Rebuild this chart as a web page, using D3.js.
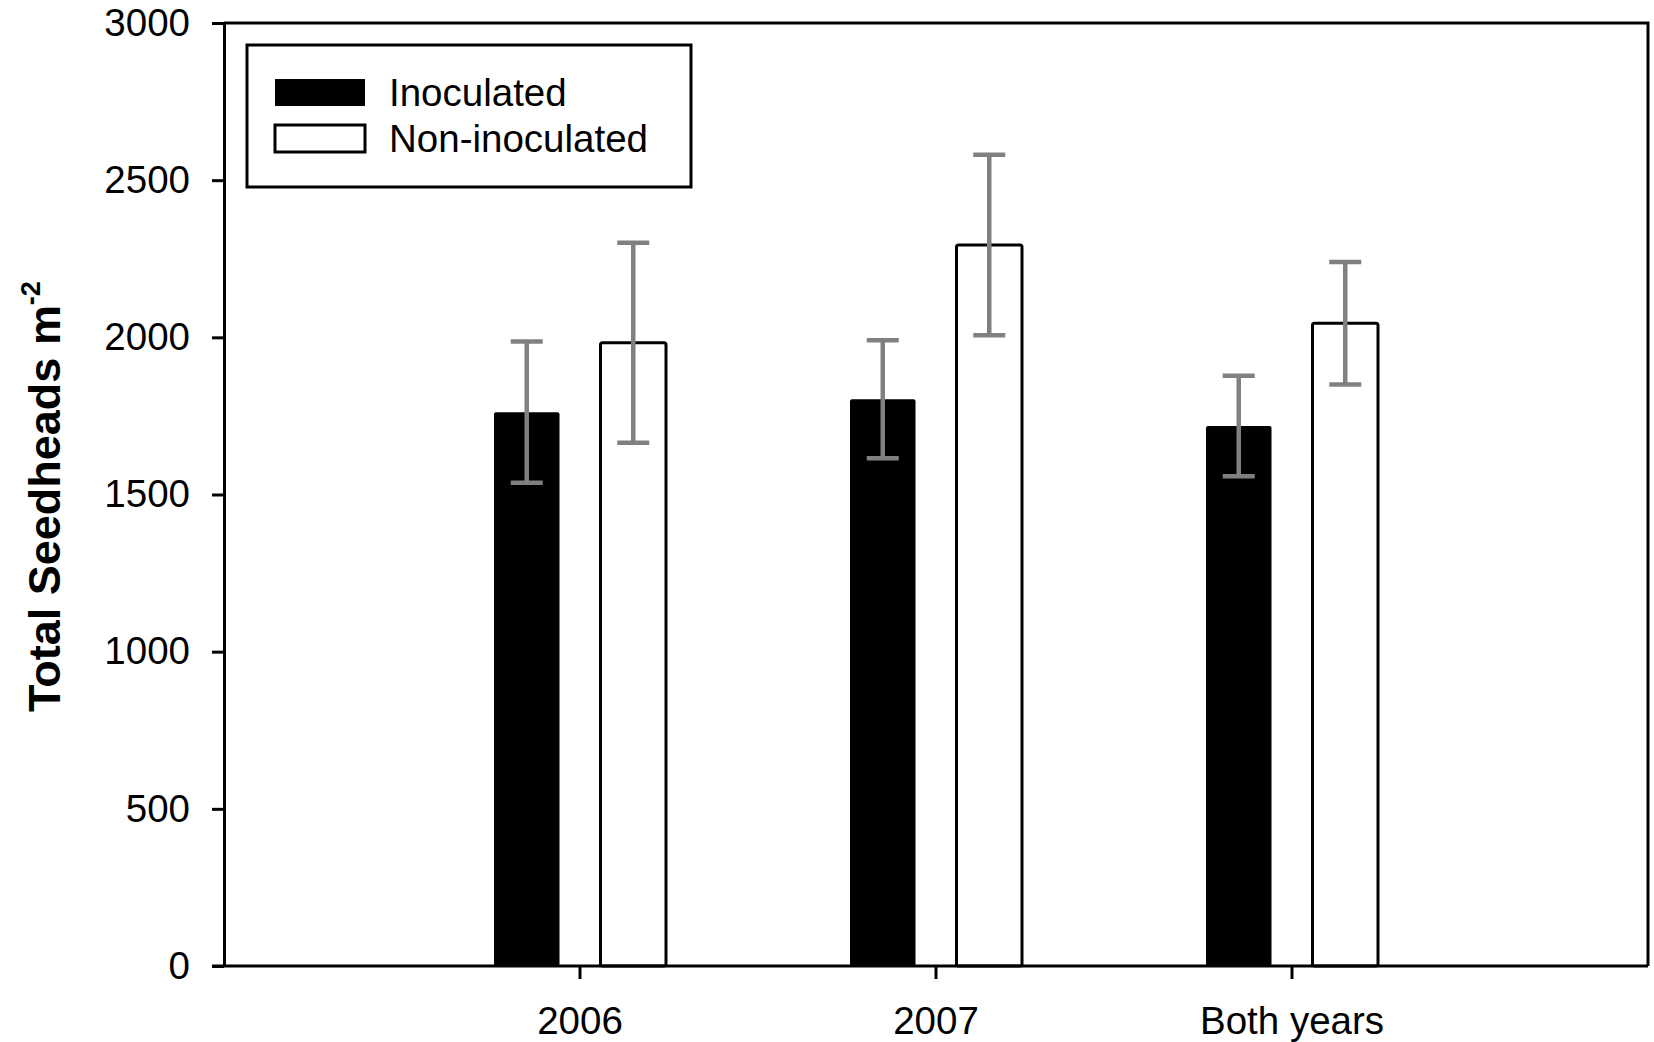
<!DOCTYPE html>
<html>
<head>
<meta charset="utf-8">
<script src="https://cdn.jsdelivr.net/npm/d3@7"></script>
<style>
  html, body { margin: 0; padding: 0; background: #fff; }
  svg { display: block; }
  text { font-family: "Liberation Sans", Arial, sans-serif; fill: #000; }
</style>
</head>
<body>
<svg id="chart" width="1654" height="1042"></svg>
<script>
// Seedhead counts (mean and standard error) per season
const categories = ["2006", "2007", "Both years"];
const seriesNames = ["Inoculated", "Non-inoculated"];
const inoculated = [1762, 1803, 1718];
const inoculatedErr = [225, 188, 160];
const nonInoculated = [1983, 2294, 2045];
const nonInoculatedErr = [318, 287, 195];
const yTicks = [0, 500, 1000, 1500, 2000, 2500, 3000];

const svg = d3.select("#chart");
const plot = { left: 224, right: 1648, top: 23, bottom: 966 };

const x = d3.scaleBand()
  .domain(categories)
  .range([plot.left, plot.right])
  .paddingInner(0)
  .paddingOuter(0.5);

const y = d3.scaleLinear().domain([0, 3000]).range([plot.bottom, plot.top]);

// Two bars per category, separated by a gap
const sub = d3.scaleBand()
  .domain(seriesNames)
  .range([x.bandwidth() / 2 - 86, x.bandwidth() / 2 + 86])
  .paddingInner(0.385)
  .paddingOuter(0);

const rows = categories.map((c, i) => ({
  cat: c,
  values: [
    { series: "Inoculated", value: inoculated[i], err: inoculatedErr[i] },
    { series: "Non-inoculated", value: nonInoculated[i], err: nonInoculatedErr[i] }
  ]
}));

// Frame (top and right edges)
svg.append("path")
  .attr("d", `M${plot.left},${plot.top}H${plot.right}V${plot.bottom}`)
  .attr("fill", "none").attr("stroke", "#000").attr("stroke-width", 3);

// Bars
const groups = svg.append("g").selectAll("g").data(rows).join("g")
  .attr("transform", d => `translate(${x(d.cat)},0)`);

groups.selectAll("rect").data(d => d.values).join("rect")
  .attr("x", d => sub(d.series))
  .attr("y", d => y(d.value))
  .attr("width", sub.bandwidth())
  .attr("height", d => y(0) - y(d.value))
  .attr("rx", 2)
  .attr("fill", d => d.series === "Inoculated" ? "#000" : "#fff")
  .attr("stroke", "#000")
  .attr("stroke-width", d => d.series === "Inoculated" ? 0 : 3);

// Error bars
const capHalf = 16;
const eb = groups.selectAll("g.err").data(d => d.values).join("g").attr("class", "err")
  .attr("stroke", "#808080").attr("stroke-width", 4.5);
const cx = d => sub(d.series) + sub.bandwidth() / 2;
eb.append("line")
  .attr("x1", cx).attr("x2", cx)
  .attr("y1", d => y(d.value + d.err))
  .attr("y2", d => y(d.value - d.err));
eb.append("line")
  .attr("x1", d => cx(d) - capHalf).attr("x2", d => cx(d) + capHalf)
  .attr("y1", d => y(d.value + d.err))
  .attr("y2", d => y(d.value + d.err));
eb.append("line")
  .attr("x1", d => cx(d) - capHalf).attr("x2", d => cx(d) + capHalf)
  .attr("y1", d => y(d.value - d.err))
  .attr("y2", d => y(d.value - d.err));

// Axes
const yAxis = svg.append("g")
  .attr("transform", `translate(${plot.left},0)`)
  .call(d3.axisLeft(y).tickValues(yTicks).tickFormat(d3.format("d"))
    .tickSize(12).tickSizeOuter(0).tickPadding(22));
const xAxis = svg.append("g")
  .attr("transform", `translate(0,${plot.bottom})`)
  .call(d3.axisBottom(x).tickSize(13).tickSizeOuter(0).tickPadding(28));

[yAxis, xAxis].forEach(a => {
  a.select(".domain").attr("stroke", "#000").attr("stroke-width", 3);
  a.selectAll(".tick line").attr("stroke", "#000").attr("stroke-width", 3);
  a.selectAll(".tick text")
    .attr("font-size", 38.5)
    .attr("font-family", "'Liberation Sans', Arial, sans-serif")
    .attr("fill", "#000");
});
// bottom axis runs out to the left under the y-axis ticks
xAxis.select(".domain").attr("d", `M${plot.left - 12},0H${plot.right}`);

// Y axis title with superscript
const title = svg.append("text")
  .attr("transform", `translate(60,${(plot.top + plot.bottom) / 2 + 2}) rotate(-90)`)
  .attr("text-anchor", "middle")
  .attr("font-size", 45)
  .attr("font-weight", "bold");
title.append("tspan").text("Total Seedheads m");
title.append("tspan").attr("dy", -20).attr("font-size", 27).text("-2");

// Legend
const legend = svg.append("g");
legend.append("rect")
  .attr("x", 247).attr("y", 45).attr("width", 444).attr("height", 142)
  .attr("fill", "#fff").attr("stroke", "#000").attr("stroke-width", 3);
const items = legend.selectAll("g.item").data(seriesNames).join("g").attr("class", "item")
  .attr("transform", (d, i) => `translate(0,${i * 46})`);
items.append("rect")
  .attr("x", 275).attr("y", 79).attr("width", 90).attr("height", 27)
  .attr("fill", d => d === "Inoculated" ? "#000" : "#fff")
  .attr("stroke", "#000").attr("stroke-width", d => d === "Inoculated" ? 0 : 3);
items.append("text")
  .attr("x", 389).attr("y", 106)
  .attr("font-size", 38.5)
  .text(d => d);
</script>
</body>
</html>
